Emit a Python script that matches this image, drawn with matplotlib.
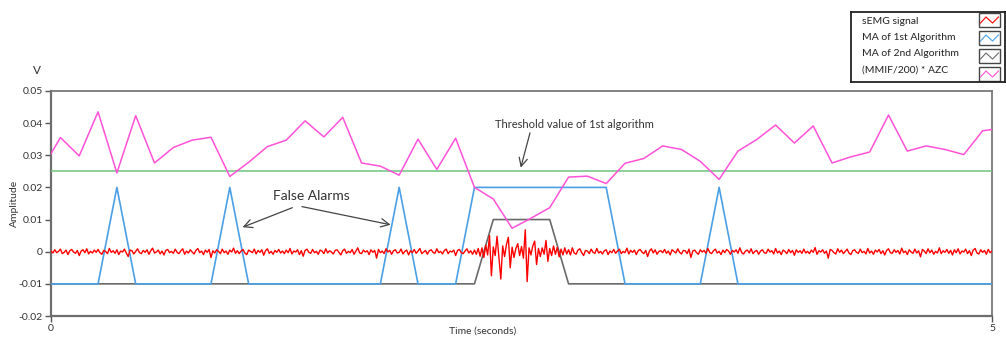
import matplotlib
matplotlib.use('Agg')
import matplotlib.pyplot as plt
import numpy as np
from matplotlib.patches import Rectangle

plt.rcParams['font.family'] = ['Lato', 'DejaVu Sans']

# moving-average / feature sample times (s)
t_ma = np.concatenate([[0.0], np.arange(0.05, 5.0, 0.1), [5.0]])

# (MMIF/200) * AZC
mmif_azc = [0.0305,
            0.0355, 0.0298, 0.0435, 0.0245, 0.0423, 0.0276, 0.0324, 0.0347, 0.0356, 0.0234,
            0.0278, 0.0327, 0.0347, 0.0407, 0.0357, 0.0418, 0.0276, 0.0266, 0.0238, 0.0350,
            0.0256, 0.0353, 0.0200, 0.0164, 0.0073, 0.0104, 0.0137, 0.0232, 0.0235, 0.0212,
            0.0275, 0.0290, 0.0329, 0.0318, 0.0281, 0.0225, 0.0313, 0.0349, 0.0394, 0.0338,
            0.0391, 0.0276, 0.0295, 0.0310, 0.0425, 0.0313, 0.0329, 0.0318, 0.0302, 0.0376,
            0.0380]

# MA of 1st algorithm
ma_first = [-0.01,
            -0.01, -0.01, -0.01, 0.02, -0.01, -0.01, -0.01, -0.01, -0.01, 0.02,
            -0.01, -0.01, -0.01, -0.01, -0.01, -0.01, -0.01, -0.01, 0.02, -0.01,
            -0.01, -0.01, 0.02, 0.02, 0.02, 0.02, 0.02, 0.02, 0.02, 0.02,
            -0.01, -0.01, -0.01, -0.01, -0.01, 0.02, -0.01, -0.01, -0.01, -0.01,
            -0.01, -0.01, -0.01, -0.01, -0.01, -0.01, -0.01, -0.01, -0.01, -0.01,
            -0.01]

# MA of 2nd algorithm
ma_second = [-0.01,
             -0.01, -0.01, -0.01, -0.01, -0.01, -0.01, -0.01, -0.01, -0.01, -0.01,
             -0.01, -0.01, -0.01, -0.01, -0.01, -0.01, -0.01, -0.01, -0.01, -0.01,
             -0.01, -0.01, -0.01, 0.01, 0.01, 0.01, 0.01, -0.01, -0.01, -0.01,
             -0.01, -0.01, -0.01, -0.01, -0.01, -0.01, -0.01, -0.01, -0.01, -0.01,
             -0.01, -0.01, -0.01, -0.01, -0.01, -0.01, -0.01, -0.01, -0.01, -0.01,
             -0.01]

threshold = 0.025

# sEMG signal, units of 1e-4 V, one value every 10 ms
semg_e4 = [
    2, -4, 6, -3, 1, 8, -6, -2, 5, -9, 3, 7, -1, -5, 4, -12, 2, 6, -3, 9, -7, 1, -4, 5, -2,
    7, -3, -8, 4, 1, -6, 10, -2, 3, -5, 6, -9, 2, -1, 8, -4, -15, 5, 3, -7, 1, 9, -3, -6, 4,
    -2, 6, -8, 3, 11, -4, -1, 5, -7, 2, -10, 4, 7, -3, 1, -5, 8, -2, -6, 3, 9, -8, 2, -4, 6,
    -1, -7, 4, 10, -3, 2, -9, 5, -2, 7, -18, 3, -4, 6, 1, -6, 8, -3, 2, -8, 5, -1, 11, -5, 3,
    -6, 2, 7, -4, -9, 5, 1, -3, 8, -7, 4, -2, 6, -11, 3, 9, -5, 1, -8, 4, -2, 7, -4, 2, -6,
    5, -3, 10, -7, 2, -1, 6, -9, 3, -14, 4, 8, -2, -5, 7, -3, 1, -8, 5, 2, -6, 9, -4, 3, -1,
    -7, 4, 6, -2, -10, 3, 8, -5, 1, -3, 7, -8, 2, 12, -4, -6, 5, -1, 3, -9, 6, -2, 4, -20, 7,
    -3, 2, -6, 9, -1, 4, -8, 3, 6, -4, -2, 8, -7, 1, 5, -10, 3, -3, 7, -5, 2, 10, -6, -1, 4,
    -8, 3, 6, -2, -5, 9, -3, 1, -7, 4, 8, -6, 2, -1, 5, -12, 4, 7, -3, -6, 2, 9, -4, 3, -8,
    5, -8, 10, -14, 12, -18, 20, -10, 50, -75, 15, -12, 48, -20, -85, 18, -15, 22, 45, -50, 14, -18, 10, 25, -12,
    16, -20, 68, -93, 12, -10, 18, 33, -40, 10, -15, 12, -8, 35, -30, 10, -12, 18, -8, 14, -16, 8, -10, 12, -7,
    6, -10, 12, -4, -8, 5, 9, -3, -12, 4, 2, -6, 8, -2, -5, 10, -4, 1, -7, 3, 6, -9, 2, -3, 7,
    -5, 2, 8, -6, 1, -3, 11, -7, 4, -2, 5, -9, 3, 7, -1, -6, 4, -15, 2, 9, -4, 6, -8, 1, 3,
    -3, 7, -5, 2, -10, 6, 1, -4, 9, -2, -7, 4, 3, -6, 8, -18, 2, 5, -3, -8, 6, -1, 4, -5, 10,
    -2, -6, 3, 8, -4, 1, -9, 5, -3, 7, 2, -8, 4, -1, 6, -5, 12, -3, -7, 2, 5, -4, 9, -6, 1,
    4, -8, 2, 6, -3, -5, 8, -1, 3, -7, 10, -4, 2, -9, 5, 1, -6, 7, -3, 4, -11, 6, -2, 3, -5,
    8, -4, 1, -6, 5, -2, 13, -8, 3, -1, 6, -5, 2, -20, 7, 4, -3, -7, 9, -2, 5, -6, 1, 8, -4,
    -9, 3, 6, -2, -5, 8, -3, 1, -7, 10, -4, 2, -8, 5, -1, 7, -6, 3, -10, 4, 9, -3, -5, 6, -2,
    4, -7, 11, -3, 2, -9, 6, -1, -5, 8, -4, 3, -16, 7, 2, -6, 9, -3, 5, -8, 1, -4, 12, -6, 3,
    -2, 7, -5, 4, -10, 6, -3, 9, -7, 2, -1, 8, -6, 3, -12, 5, 10, -4, -7, 6, -2, 4, -8, 7, -3,
    2]
semg = np.array(semg_e4) * 1e-4
t_semg = np.linspace(0, 5, len(semg))

legend_labels = ['sEMG signal', 'MA of 1st Algorithm', 'MA of 2nd Algorithm', '(MMIF/200) * AZC']
c_red, c_blue, c_gray, c_mag, c_green = '#ff0000', '#4a9fe6', '#6a6a6a', '#ff52d8', '#6cc47c'

fig = plt.figure(figsize=(10.06, 3.41), dpi=100)
ax = fig.add_axes([0.0507, 0.0733, 0.9354, 0.66])

ax.plot(t_ma, ma_second, color=c_gray, lw=1.2, zorder=2)
ax.plot(t_ma, ma_first, color=c_blue, lw=1.2, zorder=3)
ax.plot(t_semg, semg, color=c_red, lw=1.0, zorder=4)
ax.axhline(threshold, color=c_green, lw=1.1, zorder=3)
ax.plot(t_ma, mmif_azc, color=c_mag, lw=1.1, zorder=5)

ax.set_xlim(0, 5)
ax.set_ylim(-0.02, 0.05)
ax.set_xticks([0, 5])
ax.set_xticklabels(['0', '5'])
yt = [0.05, 0.04, 0.03, 0.02, 0.01, 0, -0.01, -0.02]
ax.set_yticks(yt)
ax.set_yticklabels(['0.05', '0.04', '0.03', '0.02', '0.01', '0', '-0.01', '-0.02'])
ax.tick_params(axis='both', labelsize=7.5, colors='#555555', labelcolor='#333333',
               length=4, width=1, pad=2)
for s in ['left', 'bottom']:
    ax.spines[s].set_color('#6e6e6e')
    ax.spines[s].set_linewidth(1.6)
for s in ['top', 'right']:
    ax.spines[s].set_color('#7a7a7a')
    ax.spines[s].set_linewidth(1.3)

ax.text(0.459, -0.067, 'Time (seconds)', transform=ax.transAxes, ha='center', va='center',
        fontsize=7.5, color='#333333')
ax.text(-0.039, 0.5, 'Amplitude', transform=ax.transAxes, ha='center', va='center',
        rotation=90, fontsize=7.5, color='#333333')
fig.text(37 / 1006, 1 - 71 / 341, 'V', ha='center', va='center', fontsize=8.5, color='#333333')

# annotations
arrow = dict(arrowstyle='->', color='#444444', lw=0.9, mutation_scale=15)
ax.annotate('', xy=(2.492, 0.0253), xytext=(2.549, 0.0378), arrowprops=arrow)
ax.text(2.78, 0.0396, 'Threshold value of 1st algorithm', ha='center', va='center',
        fontsize=8, color='#333333')
ax.text(1.381, 0.0173, 'False Alarms', ha='center', va='center', fontsize=10, color='#333333')
ax.annotate('', xy=(1.004, 0.0073), xytext=(1.296, 0.0140), arrowprops=arrow)
ax.annotate('', xy=(1.819, 0.0082), xytext=(1.319, 0.0142), arrowprops=arrow)

# legend box drawn in pixel-like coordinates
lax = fig.add_axes([851 / 1006, 1 - 82 / 341, 154 / 1006, 70 / 341])
lax.set_xlim(851, 1005)
lax.set_ylim(82, 12)
lax.set_xticks([])
lax.set_yticks([])
for s in lax.spines.values():
    s.set_color('#222222')
    s.set_linewidth(1.3)
text_y = [22, 38, 54, 70]
box_top = [13, 31, 49, 67]
for lab, ty, bt, c in zip(legend_labels, text_y, box_top, [c_red, c_blue, c_gray, c_mag]):
    lax.text(862, ty, lab, ha='left', va='center', fontsize=7.5, color='#222222')
    lax.add_patch(Rectangle((979, bt), 21, 14, fill=False, edgecolor='#444444', lw=1))
    lax.plot([980.5, 986, 992.5, 998.5], [bt + 10, bt + 4, bt + 10, bt + 4], color=c, lw=0.8)

fig.savefig('out.png', dpi=100)
